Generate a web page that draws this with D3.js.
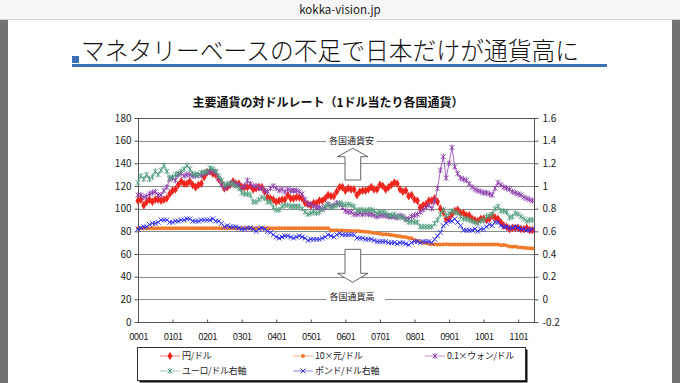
<!DOCTYPE html>
<html>
<head>
<meta charset="utf-8">
<script src="https://cdn.jsdelivr.net/npm/d3@7"></script>
<style>
  html, body { margin: 0; padding: 0; background: #fff; }
  svg { display: block; font-family: 'Noto Sans CJK JP', 'Noto Sans', sans-serif; }
</style>
</head>
<body>
<svg id="chart" width="680" height="383"></svg>
<script>
// tick labels (one per January, 2000-2011)
const xTickLabels = ['0001', '0101', '0201', '0301', '0401', '0501', '0601', '0701', '0801', '0901', '1001', '1101']
const leftTicks = [0, 20, 40, 60, 80, 100, 120, 140, 160, 180]
const rightTicks = [-0.2, 0, 0.2, 0.4, 0.6, 0.8, 1, 1.2, 1.4, 1.6]
const rightTickLabels = ['-0.2', '0', '0.2', '0.4', '0.6', '0.8', '1', '1.2', '1.4', '1.6']

// monthly, Jan 2000 - Jun 2011
const yenUsd = [
  107, 108, 103, 106, 108, 106, 108, 108, 107, 108, 109, 113,
  116, 117, 121, 124, 122, 122, 124, 121, 119, 121, 122, 128,
  132, 133, 131, 130, 126, 123, 118, 119, 121, 124, 122, 122,
  119, 119, 119, 120, 117, 118, 119, 119, 115, 110, 109, 108,
  106, 107, 108, 108, 112, 109, 109, 110, 110, 109, 105, 104,
  103, 105, 105, 107, 107, 109, 112, 111, 111, 115, 119, 119,
  116, 118, 117, 117, 112, 115, 116, 116, 117, 119, 117, 117,
  121, 120, 117, 119, 121, 123, 122, 117, 115, 116, 111, 112,
  108, 107, 101, 103, 104, 107, 107, 109, 106, 100, 97, 91,
  91, 95, 98, 99, 96, 96, 94, 94, 91, 90, 89, 91,
  91, 90, 91, 94, 92, 91, 88, 85, 84, 82, 83, 83,
  83, 82, 82, 83, 81, 81
]
const yuanUsd10 = [
  82.8, 82.8, 82.8, 82.8, 82.8, 82.8, 82.8, 82.8, 82.8, 82.8, 82.8, 82.8,
  82.8, 82.8, 82.8, 82.8, 82.8, 82.8, 82.8, 82.8, 82.8, 82.8, 82.8, 82.8,
  82.8, 82.8, 82.8, 82.8, 82.8, 82.8, 82.8, 82.8, 82.8, 82.8, 82.8, 82.8,
  82.8, 82.8, 82.8, 82.8, 82.8, 82.8, 82.8, 82.8, 82.8, 82.8, 82.8, 82.8,
  82.8, 82.8, 82.8, 82.8, 82.8, 82.8, 82.8, 82.8, 82.8, 82.8, 82.8, 82.8,
  82.8, 82.8, 82.8, 82.8, 82.8, 82.8, 82.7, 81.0, 80.9, 80.9, 80.8, 80.8,
  80.6, 80.5, 80.3, 80.2, 80.2, 80.0, 79.9, 79.7, 79.4, 79.0, 78.6, 78.2,
  77.8, 77.5, 77.4, 77.2, 76.7, 76.3, 75.8, 75.6, 75.1, 75.0, 74.2, 73.8,
  72.4, 71.6, 70.9, 70.0, 69.7, 69.0, 68.5, 68.5, 68.3, 68.4, 68.3, 68.5,
  68.4, 68.4, 68.4, 68.3, 68.3, 68.3, 68.3, 68.3, 68.3, 68.3, 68.3, 68.3,
  68.3, 68.3, 68.3, 68.3, 68.3, 68.3, 67.8, 67.9, 67.4, 66.7, 66.5, 66.6,
  66.0, 65.8, 65.6, 65.3, 65.0, 64.8
]
const wonUsd01 = [
  112, 112, 110, 111, 113, 114, 115, 112, 112, 116, 119, 126,
  127, 125, 130, 131, 129, 130, 130, 129, 129, 130, 129, 131,
  132, 133, 133, 132, 127, 121, 118, 120, 121, 123, 121, 121,
  118, 120, 125, 122, 120, 120, 118, 118, 116, 115, 118, 120,
  118, 116, 117, 115, 117, 116, 116, 116, 115, 113, 108, 104,
  104, 102, 101, 101, 100, 101, 104, 102, 103, 105, 104, 101,
  98, 97, 97, 95, 95, 96, 95, 96, 95, 95, 94, 93,
  94, 94, 94, 93, 93, 93, 92, 94, 93, 91, 91, 93,
  94, 95, 97, 99, 101, 103, 100, 106, 118, 134, 146, 127,
  140, 154, 137, 131, 127, 126, 125, 122, 119, 117, 116, 115,
  114, 114, 113, 112, 118, 123, 121, 119, 118, 117, 115, 114,
  113, 112, 110, 109, 108, 107
]
// right axis
const euroUsd = [
  1.03, 1.09, 1.06, 1.10, 1.06, 1.08, 1.13, 1.10, 1.14, 1.18, 1.13, 1.07,
  1.08, 1.10, 1.11, 1.13, 1.15, 1.18, 1.15, 1.11, 1.10, 1.10, 1.12, 1.12,
  1.13, 1.16, 1.15, 1.13, 1.09, 1.05, 1.01, 1.02, 1.02, 1.02, 1.00, 0.98,
  0.94, 0.93, 0.93, 0.92, 0.86, 0.86, 0.88, 0.90, 0.89, 0.86, 0.86, 0.81,
  0.79, 0.79, 0.82, 0.83, 0.83, 0.82, 0.82, 0.82, 0.82, 0.80, 0.77, 0.75,
  0.76, 0.77, 0.76, 0.77, 0.79, 0.82, 0.83, 0.81, 0.82, 0.83, 0.85, 0.84,
  0.83, 0.84, 0.83, 0.82, 0.78, 0.79, 0.79, 0.78, 0.79, 0.79, 0.78, 0.76,
  0.77, 0.77, 0.76, 0.74, 0.74, 0.75, 0.73, 0.73, 0.72, 0.70, 0.68, 0.69,
  0.68, 0.68, 0.64, 0.64, 0.64, 0.64, 0.64, 0.67, 0.70, 0.75, 0.79, 0.74,
  0.76, 0.78, 0.77, 0.76, 0.73, 0.71, 0.71, 0.70, 0.69, 0.68, 0.67, 0.69,
  0.70, 0.73, 0.74, 0.75, 0.80, 0.82, 0.78, 0.78, 0.77, 0.72, 0.73, 0.76,
  0.75, 0.73, 0.71, 0.69, 0.70, 0.70
]
const poundUsd = [
  0.62, 0.63, 0.64, 0.64, 0.66, 0.67, 0.67, 0.68, 0.70, 0.70, 0.70, 0.68,
  0.68, 0.69, 0.69, 0.70, 0.70, 0.71, 0.71, 0.69, 0.69, 0.69, 0.70, 0.70,
  0.70, 0.70, 0.71, 0.69, 0.69, 0.67, 0.64, 0.65, 0.64, 0.64, 0.64, 0.63,
  0.62, 0.62, 0.63, 0.63, 0.62, 0.60, 0.62, 0.63, 0.62, 0.60, 0.59, 0.57,
  0.55, 0.54, 0.55, 0.56, 0.56, 0.55, 0.54, 0.55, 0.56, 0.55, 0.54, 0.52,
  0.53, 0.53, 0.53, 0.53, 0.54, 0.55, 0.57, 0.56, 0.55, 0.57, 0.58, 0.57,
  0.57, 0.57, 0.57, 0.57, 0.54, 0.54, 0.54, 0.53, 0.53, 0.53, 0.52, 0.51,
  0.51, 0.51, 0.51, 0.50, 0.50, 0.50, 0.49, 0.50, 0.50, 0.49, 0.48, 0.50,
  0.51, 0.51, 0.50, 0.51, 0.51, 0.51, 0.50, 0.53, 0.56, 0.59, 0.65, 0.67,
  0.69, 0.69, 0.71, 0.68, 0.65, 0.61, 0.61, 0.61, 0.61, 0.62, 0.60, 0.62,
  0.62, 0.64, 0.66, 0.65, 0.68, 0.68, 0.65, 0.64, 0.64, 0.63, 0.63, 0.64,
  0.63, 0.62, 0.62, 0.61, 0.61, 0.62
]

const seriesNames = ['円/ドル', '10×元/ドル', '0.1×ウォン/ドル', 'ユーロ/ドル右軸', 'ポンド/ドル右軸']

const svg = d3.select('#chart')

// browser bar + slide frame
svg.append('rect').attr('width', 680).attr('height', 19).attr('fill', '#f6f6f6')
svg.append('line').attr('x1', 0).attr('x2', 680).attr('y1', 19.5).attr('y2', 19.5).attr('stroke', '#d6d6d6')
svg.append('text').attr('x', 340).attr('y', 13.5).attr('text-anchor', 'middle')
  .attr('font-size', 11.5).attr('fill', '#222').text('kokka-vision.jp')
svg.append('rect').attr('x', 0).attr('y', 20).attr('width', 8).attr('height', 363).attr('fill', '#727272')
svg.append('rect').attr('x', 672).attr('y', 20).attr('width', 8).attr('height', 363).attr('fill', '#727272')

// slide title
svg.append('rect').attr('x', 72).attr('y', 56).attr('width', 7).attr('height', 7).attr('fill', '#3b71b6')
svg.append('rect').attr('x', 72).attr('y', 64).attr('width', 535).attr('height', 3).attr('fill', '#3b71b6')
svg.append('text').attr('x', 81).attr('y', 60).attr('font-size', 25).attr('font-weight', 300)
  .attr('fill', '#111').attr('textLength', 498).attr('lengthAdjust', 'spacingAndGlyphs')
  .text('マネタリーベースの不足で日本だけが通貨高に')

// chart title
svg.append('text').attr('x', 328).attr('y', 107).attr('text-anchor', 'middle')
  .attr('font-size', 12).attr('font-weight', 'bold').attr('fill', '#111')
  .text('主要通貨の対ドルレート（1ドル当たり各国通貨）')

const plotL = 138, plotR = 534, plotT = 118, plotB = 322
const x = d3.scaleLinear().domain([0, 137.5]).range([plotL, plotR])
const yL = d3.scaleLinear().domain([0, 180]).range([plotB, plotT])
const yR = d3.scaleLinear().domain([-0.2, 1.6]).range([plotB, plotT])

// gridlines
svg.append('g').selectAll('line').data(leftTicks).join('line')
  .attr('x1', plotL).attr('x2', plotR)
  .attr('y1', d => Math.round(yL(d)) + 0.5).attr('y2', d => Math.round(yL(d)) + 0.5)
  .attr('stroke', '#8a8a8a')

// annotations on the 160 and 20 lines
svg.append('rect').attr('x', 326).attr('y', 134).attr('width', 51).attr('height', 13).attr('fill', '#fff')
svg.append('text').attr('x', 351.5).attr('y', 144.2).attr('text-anchor', 'middle')
  .attr('font-size', 9).attr('fill', '#222').text('各国通貨安')
svg.append('rect').attr('x', 326).attr('y', 290).attr('width', 59).attr('height', 13).attr('fill', '#fff')
svg.append('text').attr('x', 352).attr('y', 300).attr('text-anchor', 'middle')
  .attr('font-size', 9).attr('fill', '#222').text('各国通貨高')
svg.append('path')
  .attr('d', 'M352.7,148.3 L368,156.7 L360.7,156.7 L360.7,180 L345,180 L345,156.7 L337.4,156.7 Z')
  .attr('fill', '#fff').attr('stroke', '#666')
svg.append('path')
  .attr('d', 'M345,249.3 L360.7,249.3 L360.7,273.3 L368,273.3 L352.7,282.3 L337.4,273.3 L345,273.3 Z')
  .attr('fill', '#fff').attr('stroke', '#666')

// axes
const axisL = svg.append('g').attr('transform', `translate(${plotL + 0.5},0)`)
  .call(d3.axisLeft(yL).tickValues(leftTicks).tickSize(4).tickPadding(3))
const axisR = svg.append('g').attr('transform', `translate(${plotR + 0.5},0)`)
  .call(d3.axisRight(yR).tickValues(rightTicks).tickSize(4).tickPadding(4)
    .tickFormat((d, i) => rightTickLabels[i]))
const axisB = svg.append('g').attr('transform', `translate(0,${plotB + 0.5})`)
  .call(d3.axisBottom(x).tickValues(d3.range(xTickLabels.length).map(i => i * 12))
    .tickSize(-3).tickPadding(10.5).tickFormat((d, i) => xTickLabels[i]))
for (const g of [axisL, axisR, axisB]) {
  g.select('.domain').remove()
  g.selectAll('line').attr('stroke', '#555')
  g.selectAll('text').attr('font-size', 10).attr('fill', '#222')
    .attr('font-family', "'Noto Sans CJK JP', sans-serif")
}
axisB.selectAll('text').attr('font-size', 9.5).attr('letter-spacing', -0.6)

svg.append('rect').attr('x', plotL + 0.5).attr('y', plotT + 0.5)
  .attr('width', plotR - plotL).attr('height', plotB - plotT)
  .attr('fill', 'none').attr('stroke', '#555')

// markers
function drawMarker (g, type, color, cx, cy) {
  if (type === 'diamond') {
    g.append('path').attr('d', d3.symbol(d3.symbolDiamond, 22)())
      .attr('transform', `translate(${cx},${cy})`).attr('fill', color)
  } else if (type === 'circle') {
    g.append('circle').attr('cx', cx).attr('cy', cy).attr('r', 2).attr('fill', color)
  } else {
    const s = 2.4
    let d = `M${cx - s},${cy - s}L${cx + s},${cy + s}M${cx - s},${cy + s}L${cx + s},${cy - s}`
    if (type === 'star') d += `M${cx},${cy - s - 0.6}L${cx},${cy + s + 0.6}`
    g.append('path').attr('d', d).attr('stroke', color).attr('stroke-width', 0.9).attr('fill', 'none')
  }
}

const series = [
  { values: yenUsd, scale: yL, color: '#f0261e', line: '#f04a40', type: 'diamond' },
  { values: yuanUsd10, scale: yL, color: '#f07a2c', line: '#f39050', type: 'circle' },
  { values: wonUsd01, scale: yL, color: '#8a3aa8', line: '#a466c0', type: 'star' },
  { values: euroUsd, scale: yR, color: '#4f9c7c', line: '#7ab89e', type: 'star' },
  { values: poundUsd, scale: yR, color: '#2222ee', line: '#5a5af0', type: 'cross' }
]

const plot = svg.append('g')
series.forEach(s => {
  const line = d3.line().x((d, i) => x(i)).y(d => s.scale(d))
  plot.append('path').attr('d', line(s.values)).attr('fill', 'none')
    .attr('stroke', s.line).attr('stroke-width', 1)
  const mg = plot.append('g')
  s.values.forEach((v, i) => drawMarker(mg, s.type, s.color, x(i), s.scale(v)))
})

// legend
const lg = svg.append('g')
lg.append('rect').attr('x', 139.5).attr('y', 349.5).attr('width', 388).attr('height', 33).attr('fill', '#111')
lg.append('rect').attr('x', 137.5).attr('y', 347.5).attr('width', 388).attr('height', 33)
  .attr('fill', '#fff').attr('stroke', '#333')
const legendPos = [[160, 356], [293, 356], [425, 356], [160, 371], [293, 371]]
series.forEach((s, i) => {
  const [lx, ly] = legendPos[i]
  lg.append('line').attr('x1', lx).attr('x2', lx + 20).attr('y1', ly).attr('y2', ly)
    .attr('stroke', s.line).attr('stroke-opacity', 0.7)
  drawMarker(lg, s.type, s.color, lx + 10, ly)
  lg.append('text').attr('x', lx + 22).attr('y', ly + 3.3).attr('font-size', 9)
    .attr('letter-spacing', -0.3).attr('fill', '#222').text(seriesNames[i])
})
</script>
</body>
</html>
